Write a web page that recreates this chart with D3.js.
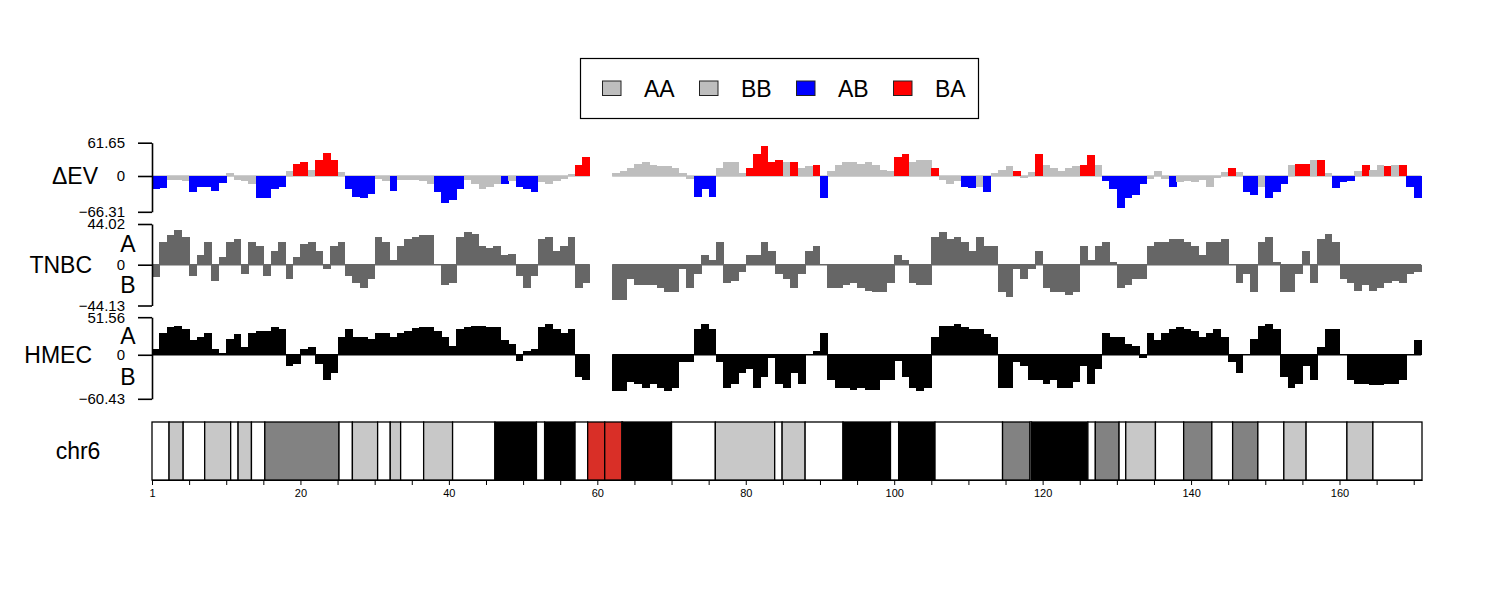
<!DOCTYPE html>
<html>
<head>
<meta charset="utf-8">
<script src="https://cdn.jsdelivr.net/npm/d3@7"></script>
<style>
body { margin: 0; background: #fff; }
text { font-family: "Liberation Sans", Arial, Helvetica, sans-serif; }
</style>
</head>
<body>
<svg id="canvas" width="1500" height="600"></svg>
<script>
/********** Initialisation *********/
var svg = d3.select("#canvas");
var width = +svg.attr("width");
var height = +svg.attr("height");


/************* Data **************/
// one value per 1 Mb bin, bin i covers [i, i+1) Mb; null = centromere gap
var ev_values = [
  -25,-22,-7,-7,-10,-30,-20,-20,-28,-13,
  5,-8,-10,-15,-40,-40,-25,-20,10,22,
  25,12,30,42,30,8,-25,-38,-40,-33,
  -5,-10,-28,-8,-8,-8,-10,-15,-30,-50,
  -45,-25,-8,-15,-25,-20,-15,-15,-10,-20,
  -25,-30,-12,-15,-10,-5,3,20,35,null,
  null,null,5,10,14,22,25,20,18,18,
  15,5,-5,-38,-25,-38,15,25,25,5,
  15,40,55,25,30,25,25,15,18,20,
  -40,10,20,25,25,22,25,20,12,10,
  35,40,25,30,30,15,-8,-15,-10,-20,
  -22,-20,-30,5,12,18,10,-3,8,40,
  20,15,10,15,18,20,38,20,-10,-25,
  -60,-40,-35,-15,-5,10,-5,-20,-12,-10,
  -12,-8,-20,-3,8,15,8,-30,-35,-20,
  -40,-30,-15,20,22,22,30,30,5,-22,
  -12,-10,10,20,12,20,18,20,20,-20,
  -40
];

var ev_state = [
  "AB","AB","AA","AA","AA","AB","AB","AB","AB","AB",
  "AA","AA","AA","AA","AB","AB","AB","AB","BB","BA",
  "BA","AA","BA","BA","BA","AA","AB","AB","AB","AB",
  "AA","AA","AB","AA","AA","AA","AA","AA","AB","AB",
  "AB","AB","AA","AA","AA","AA","AA","AB","AA","AB",
  "AB","AB","AA","AA","AA","AA","AA","BA","BA",null,
  null,null,"BB","BB","BB","BB","BB","BB","BB","BB",
  "BB","BB","BB","AB","AB","AB","BB","BB","BB","BB",
  "BA","BA","BA","BA","BA","BB","BA","BB","BB","BA",
  "AB","BB","BB","BB","BB","BB","BB","BB","BB","BB",
  "BA","BA","BB","BB","BB","BA","AA","AA","AA","AB",
  "AB","AA","AB","AA","BB","BB","BA","BB","BB","BA",
  "BB","BB","BB","BB","BB","BA","BA","BB","AB","AB",
  "AB","AB","AB","AB","AA","AA","AA","AB","AA","AA",
  "AA","AA","AA","AA","AA","BA","BB","AB","AB","AA",
  "AB","AB","AB","BB","BA","BA","BB","BA","AA","AB",
  "AB","AB","BB","BA","BB","BB","BA","BB","BA","AB",
  "AB"
];

var tnbc_values = [
  -13,25,32,38,30,-12,10,25,-18,8,
  25,28,-10,25,20,-12,15,25,-15,8,
  22,25,15,-5,20,25,-12,-20,-25,-15,
  30,25,5,20,28,30,32,32,0,-22,
  -20,30,35,33,20,18,20,10,12,-12,
  -25,-12,28,30,15,20,30,-25,-20,null,
  null,null,-38,-38,-15,-22,-22,-22,-25,-30,
  -30,-5,-25,-10,10,5,25,-20,-18,-8,
  10,10,25,15,-10,-15,-25,-10,15,20,
  0,-25,-25,-22,-20,-25,-28,-30,-30,-20,
  10,5,-20,-22,-22,30,35,28,30,25,
  15,30,20,20,-30,-35,-5,-15,-5,15,
  -25,-30,-30,-33,-30,20,5,20,25,3,
  -25,-22,-15,-15,20,25,25,28,28,25,
  20,10,25,25,28,0,-20,-10,-30,25,
  30,3,-30,-30,-10,15,-20,28,33,25,
  -15,-20,-28,-22,-28,-25,-20,-18,-20,-10,
  -8
];

var hmec_values = [
  8,30,38,40,35,20,25,30,8,3,
  22,28,10,30,32,32,38,35,-15,-12,
  8,10,-12,-35,-25,25,35,25,25,22,
  30,30,25,30,33,37,38,38,32,25,
  12,35,38,40,40,38,38,20,15,-8,
  5,8,38,42,35,30,35,-30,-35,null,
  null,null,-50,-50,-38,-40,-45,-40,-45,-50,
  -45,-10,-10,35,42,35,-10,-45,-40,-25,
  -20,-45,-30,-5,-40,-45,-25,-40,0,5,
  30,-35,-45,-45,-48,-45,-48,-48,-35,-35,
  -8,-30,-45,-50,-45,25,40,40,42,38,
  35,35,28,25,-45,-45,-10,-15,-35,-35,
  -40,-35,-45,-45,-38,-15,-40,-20,30,25,
  25,15,12,-5,30,20,30,35,38,35,
  32,25,30,35,25,-10,-25,0,22,40,
  42,35,-30,-45,-40,-15,-35,10,35,35,
  0,-35,-40,-40,-42,-42,-40,-40,-35,0,
  20
];

var ev_ticks = [-66.31, 0, 61.65];
var tnbc_ticks = [-44.13, 0, 44.02];
var hmec_ticks = [-60.43, 0, 51.56];

var legend_labels = ["AA", "BB", "AB", "BA"];

// chr6 cytobands (Mb)
var chrom_name = "chr6";
var chrom_length = 171.115;
var band_starts = [0, 2.3, 4.2, 7.1, 10.6, 11.6, 13.4, 15.2, 25.2, 27.0, 30.4, 32.1, 33.5, 36.6,
  40.5, 46.2, 51.8, 52.9, 57.0, 58.7, 61.0, 63.3, 63.4, 70.0, 75.9, 83.9, 84.9, 88.0, 93.1,
  99.5, 100.6, 105.5, 114.6, 118.3, 118.5, 126.1, 127.1, 130.3, 131.2, 135.2, 139.0, 142.8,
  145.6, 149.0, 152.5, 155.5, 161.0, 164.5];
var band_stains = ["gneg", "gpos25", "gneg", "gpos50", "gneg", "gpos25", "gneg", "gpos75",
  "gneg", "gpos50", "gneg", "gpos25", "gneg", "gpos25", "gneg", "gpos100", "gneg", "gpos100",
  "gneg", "acen", "acen", "gneg", "gpos100", "gneg", "gpos50", "gneg", "gpos50", "gneg",
  "gpos100", "gneg", "gpos100", "gneg", "gpos75", "gneg", "gpos100", "gneg", "gpos75", "gneg",
  "gpos50", "gneg", "gpos75", "gneg", "gpos75", "gneg", "gpos50", "gneg", "gpos50", "gneg"];
var chrom_ticks = d3.range(0, 171, 5);


/*********** Colours *************/
var state_colors = {AA: "#bebebe", BB: "#bebebe", AB: "#0000ff", BA: "#ff0000"};
var stain_colors = {gneg: "#ffffff", gpos25: "#c8c8c8", gpos50: "#c8c8c8",
  gpos75: "#828282", gpos100: "#000000", acen: "#d92f27"};


/*********** Scales *************/
var x = d3.scaleLinear().domain([0, chrom_length]).range([152, 1422]);
var segments = [[0, 59], [62, 171]];

var tracks = [
  {name: "\u0394EV", values: ev_values, ticks: ev_ticks, top: 142.7, bottom: 211.8,
   fill: function(d) { return state_colors[ev_state[d.i]]; }, zero: "#bebebe", labelX: 98, ab: false},
  {name: "TNBC", values: tnbc_values, ticks: tnbc_ticks, top: 224, bottom: 305.5,
   fill: function() { return "#666666"; }, zero: "#666666", labelX: 92, ab: true},
  {name: "HMEC", values: hmec_values, ticks: hmec_ticks, top: 317.2, bottom: 398.8,
   fill: function() { return "#000000"; }, zero: "#000000", labelX: 92, ab: true}
];


/********** Tracks ***********/
tracks.forEach(function(t) {
  var y = d3.scaleLinear().domain([t.ticks[0], t.ticks[2]]).range([t.bottom, t.top]);
  var data = t.values
    .map(function(v, i) { return {i: i, v: v}; })
    .filter(function(d) { return d.v !== null; });

  var g = svg.append("g").attr("class", "track");

  g.selectAll("line.zero")
    .data(segments)
    .enter()
    .append("line")
    .attr("class", "zero")
    .attr("x1", function(s) { return x(s[0]); })
    .attr("x2", function(s) { return x(s[1]); })
    .attr("y1", y(0))
    .attr("y2", y(0))
    .attr("stroke", t.zero)
    .attr("stroke-width", 1.5);

  g.selectAll("rect")
    .data(data)
    .enter()
    .append("rect")
    .attr("x", function(d) { return x(d.i); })
    .attr("width", function(d) { return x(Math.min(d.i + 1, 171)) - x(d.i) + 0.4; })
    .attr("y", function(d) { return y(Math.max(0, d.v)); })
    .attr("height", function(d) { return Math.abs(y(d.v) - y(0)); })
    .attr("fill", t.fill)
    .attr("shape-rendering", "crispEdges");

  var axis = g.append("g")
    .attr("transform", "translate(152,0)")
    .call(d3.axisLeft(y)
      .tickValues(t.ticks)
      .tickSize(14)
      .tickSizeOuter(0)
      .tickPadding(13)
      .tickFormat(function(d) { return d === 0 ? "0" : d3.format(".2f")(d); }));
  axis.select(".domain").attr("stroke-width", 1.6);
  axis.selectAll(".tick line").attr("stroke-width", 1.6);
  axis.selectAll("text")
    .attr("font-size", 15)
    .attr("font-family", "Liberation Sans, Arial, sans-serif")
    .attr("fill", "#000");

  g.append("text")
    .attr("x", t.labelX)
    .attr("y", y(0))
    .attr("dy", "0.35em")
    .attr("text-anchor", "end")
    .attr("font-size", 23)
    .text(t.name);

  if (t.ab) {
    g.append("text")
      .attr("x", 128)
      .attr("y", (t.top + y(0)) / 2)
      .attr("dy", "0.35em")
      .attr("text-anchor", "middle")
      .attr("font-size", 23)
      .text("A");
    g.append("text")
      .attr("x", 128)
      .attr("y", (y(0) + t.bottom) / 2)
      .attr("dy", "0.35em")
      .attr("text-anchor", "middle")
      .attr("font-size", 23)
      .text("B");
  }
});


/********** Ideogram ***********/
var bands = band_starts.map(function(s, i) {
  return {start: s, end: i + 1 < band_starts.length ? band_starts[i + 1] : chrom_length, stain: band_stains[i]};
});

var ideo = svg.append("g").attr("class", "ideogram");

ideo.selectAll("rect")
  .data(bands)
  .enter()
  .append("rect")
  .attr("x", function(d) { return x(d.start); })
  .attr("width", function(d) { return x(d.end) - x(d.start); })
  .attr("y", 422)
  .attr("height", 58)
  .attr("fill", function(d) { return stain_colors[d.stain]; })
  .attr("stroke", "#000")
  .attr("stroke-width", 1.3);

ideo.append("text")
  .attr("x", 78)
  .attr("y", 451)
  .attr("dy", "0.35em")
  .attr("text-anchor", "middle")
  .attr("font-size", 23)
  .text(chrom_name);

var xaxis = ideo.append("g")
  .attr("transform", "translate(0,480)")
  .call(d3.axisBottom(x)
    .tickValues(chrom_ticks)
    .tickSize(5)
    .tickSizeOuter(0)
    .tickPadding(4)
    .tickFormat(function(d) { return d === 0 ? "1" : (d % 20 === 0 ? d : ""); }));
xaxis.selectAll("text")
  .attr("font-size", 11)
  .attr("font-family", "Liberation Sans, Arial, sans-serif")
  .attr("fill", "#000");


/********** Legend ***********/
var legend = svg.append("g").attr("class", "legend");

legend.append("rect")
  .attr("x", 580.5)
  .attr("y", 58.5)
  .attr("width", 398)
  .attr("height", 60)
  .attr("fill", "none")
  .attr("stroke", "#000")
  .attr("stroke-width", 1.2);

var item = legend.selectAll("g.item")
  .data(legend_labels)
  .enter()
  .append("g")
  .attr("class", "item")
  .attr("transform", function(d, i) { return "translate(" + (602 + i * 97) + ",0)"; });

item.append("rect")
  .attr("x", 0.5)
  .attr("y", 81)
  .attr("width", 18.5)
  .attr("height", 14.5)
  .attr("fill", function(d) { return state_colors[d]; })
  .attr("stroke", "#222")
  .attr("stroke-width", 1);

item.append("text")
  .attr("x", 42)
  .attr("y", 88.5)
  .attr("dy", "0.35em")
  .attr("font-size", 23)
  .text(function(d) { return d; });
</script>
</body>
</html>
